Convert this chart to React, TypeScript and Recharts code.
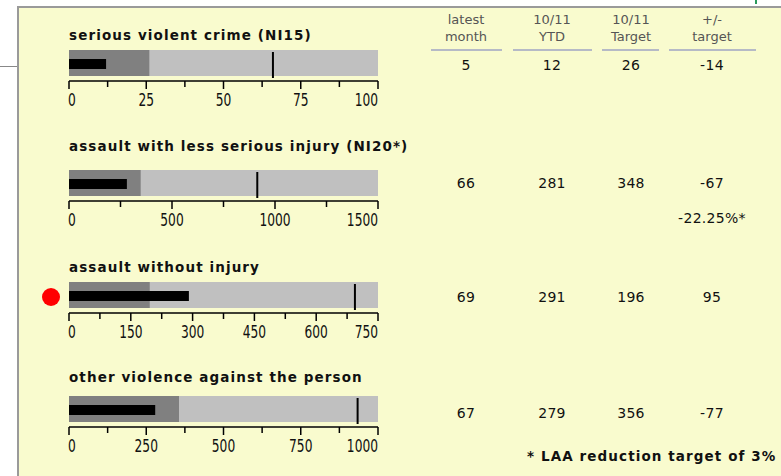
import React from 'react';
import { ComposedChart, Bar, XAxis, YAxis, ReferenceLine } from 'recharts';

const categories = [
  'serious violent crime (NI15)',
  'assault with less serious injury (NI20*)',
  'assault without injury',
  'other violence against the person',
];
const ytdValues = [12, 281, 291, 279];
const targetValues = [26, 348, 196, 356];
const markerValues = [66, 914, 694, 934];
const axisMax = [100, 1500, 750, 1000];
const majorTicks = [
  [0, 25, 50, 75, 100],
  [0, 500, 1000, 1500],
  [0, 150, 300, 450, 600, 750],
  [0, 250, 500, 750, 1000],
];
const minorTicks = [
  [12.5, 37.5, 62.5, 87.5],
  [250, 750, 1250],
  [75, 225, 375, 525, 675],
  [125, 375, 625, 875],
];
const latestMonth = ['5', '66', '69', '67'];
const ytdLabels = ['12', '281', '291', '279'];
const targetLabels = ['26', '348', '196', '356'];
const diffLabels = ['-14', '-67', '95', '-77'];
const headers = [
  ['latest', 'month'],
  ['10/11', 'YTD'],
  ['10/11', 'Target'],
  ['+/-', 'target'],
];
const redFlags = [false, false, true, false];

const colCenters = [466, 552, 631, 712];
const sepLines = [
  [431, 502],
  [513, 592],
  [602, 659],
  [669, 756],
];
const bulletTops = [49, 169, 281, 395];
const titleCenters = [35, 146, 267, 377];
const rowCenters = [65, 183, 297, 413];

const AxisTick = (props: any) => {
  const { x, y, payload, majors } = props;
  const isMajor = majors.includes(payload.value);
  const first = payload.value === majors[0];
  const last = payload.value === majors[majors.length - 1];
  const anchor = first ? 'start' : last ? 'end' : 'middle';
  return (
    <g>
      <line x1={x} x2={x} y1={y} y2={y + (isMajor ? 8 : 6)} stroke="#000" strokeWidth={1.5} />
      {isMajor && (
        <text
          transform={`translate(${x + (first ? -1 : 0)},${y + 25}) scale(0.72,1)`}
          textAnchor={anchor}
          fontFamily="DejaVu Sans"
          fontSize={17}
          fill="#111"
        >
          {payload.value}
        </text>
      )}
    </g>
  );
};

const MarkerShape = (props: any) => {
  const { x1, x2, y1, y2 } = props;
  const top = Math.min(y1, y2);
  const bottom = Math.max(y1, y2);
  return <line x1={x1} x2={x2} y1={top + 3} y2={bottom - 3} stroke="#000" strokeWidth={2} />;
};

const Bullet = ({ i }: { i: number }) => {
  const data = [
    { name: categories[i], rangeMax: axisMax[i], target: targetValues[i], ytd: ytdValues[i] },
  ];
  const max = axisMax[i];
  const ticks = [...majorTicks[i], ...minorTicks[i]];
  return (
    <div style={{ position: 'absolute', left: 60, top: bulletTops[i] }}>
      <ComposedChart
        width={338}
        height={62}
        layout="vertical"
        data={data}
        margin={{ top: 0, right: 20, bottom: 0, left: 9 }}
      >
        <XAxis
          type="number"
          domain={[0, max]}
          ticks={ticks}
          interval={0}
          allowDataOverflow
          height={30}
          tickSize={0}
          tickMargin={0}
          tickLine={false}
          axisLine={{ stroke: '#000', strokeWidth: 1.5 }}
          tick={(p: any) => <AxisTick {...p} majors={majorTicks[i]} />}
        />
        <YAxis yAxisId={0} type="category" dataKey="name" hide padding={{ top: 0, bottom: 3 }} />
        <YAxis yAxisId="a" type="category" dataKey="name" hide padding={{ top: 0, bottom: 3 }} />
        <YAxis yAxisId="b" type="category" dataKey="name" hide padding={{ top: 0, bottom: 3 }} />
        <Bar yAxisId="a" dataKey="rangeMax" fill="#c0c0c0" barSize={29} isAnimationActive={false} />
        <Bar yAxisId="b" dataKey="target" fill="#808080" barSize={29} isAnimationActive={false} />
        <Bar yAxisId={0} dataKey="ytd" fill="#000" barSize={10} isAnimationActive={false} />
        <ReferenceLine x={markerValues[i]} yAxisId={0} stroke="#000" strokeWidth={2} shape={MarkerShape} />
      </ComposedChart>
    </div>
  );
};

const titleStyle: React.CSSProperties = {
  position: 'absolute',
  fontFamily: 'DejaVu Sans, Verdana, sans-serif',
  fontWeight: 'bold',
  fontSize: 13.5,
  letterSpacing: 1.1,
  color: '#111',
  lineHeight: '16px',
  whiteSpace: 'nowrap',
};

const valueStyle: React.CSSProperties = {
  position: 'absolute',
  width: 100,
  textAlign: 'center',
  fontFamily: 'DejaVu Sans, Verdana, sans-serif',
  fontSize: 14,
  letterSpacing: 0.3,
  color: '#111',
  lineHeight: '16px',
  whiteSpace: 'nowrap',
};

export default function App() {
  return (
    <div
      style={{
        position: 'absolute',
        left: 0,
        top: 0,
        width: 781,
        height: 476,
        background: '#ffffff',
        overflow: 'hidden',
      }}
    >
      <div style={{ position: 'absolute', left: 19, top: 8, width: 762, height: 468, background: '#f9fbce' }} />
      <div style={{ position: 'absolute', left: 17, top: 6, width: 764, height: 2, background: '#9a9a9a' }} />
      <div style={{ position: 'absolute', left: 17, top: 6, width: 2, height: 470, background: '#9a9a9a' }} />
      <div style={{ position: 'absolute', left: 0, top: 66, width: 17, height: 1, background: '#888' }} />
      <div style={{ position: 'absolute', left: 755, top: 0, width: 2, height: 4, background: '#2a9a5a' }} />

      {categories.map((c, i) => (
        <div key={'t' + i} style={{ ...titleStyle, left: 69, top: titleCenters[i] - 8 }}>
          {c}
        </div>
      ))}

      {categories.map((c, i) => (
        <Bullet key={'b' + i} i={i} />
      ))}

      {redFlags.map((f, i) =>
        f ? (
          <div
            key={'r' + i}
            style={{
              position: 'absolute',
              left: 42,
              top: bulletTops[i] + 6.5,
              width: 18,
              height: 18,
              borderRadius: '50%',
              background: '#ff0000',
            }}
          />
        ) : null
      )}

      {headers.map((h, j) => (
        <div
          key={'h' + j}
          style={{
            position: 'absolute',
            left: colCenters[j] - 50,
            top: 11,
            width: 100,
            textAlign: 'center',
            fontFamily: 'DejaVu Sans, Verdana, sans-serif',
            fontSize: 13,
            lineHeight: '17px',
            color: '#555',
          }}
        >
          {h[0]}
          <br />
          {h[1]}
        </div>
      ))}
      {sepLines.map((s, j) => (
        <div
          key={'s' + j}
          style={{ position: 'absolute', left: s[0], top: 49, width: s[1] - s[0], height: 2, background: '#b6bac6' }}
        />
      ))}

      {[latestMonth, ytdLabels, targetLabels, diffLabels].map((col, j) =>
        col.map((v, i) => (
          <div key={'v' + j + '-' + i} style={{ ...valueStyle, left: colCenters[j] - 50, top: rowCenters[i] - 8 }}>
            {v}
          </div>
        ))
      )}
      <div style={{ ...valueStyle, left: colCenters[3] - 50, top: 218 - 8 }}>-22.25%*</div>
      <div style={{ ...titleStyle, left: 527, top: 456 - 8 }}>* LAA reduction target of 3%</div>
    </div>
  );
}
